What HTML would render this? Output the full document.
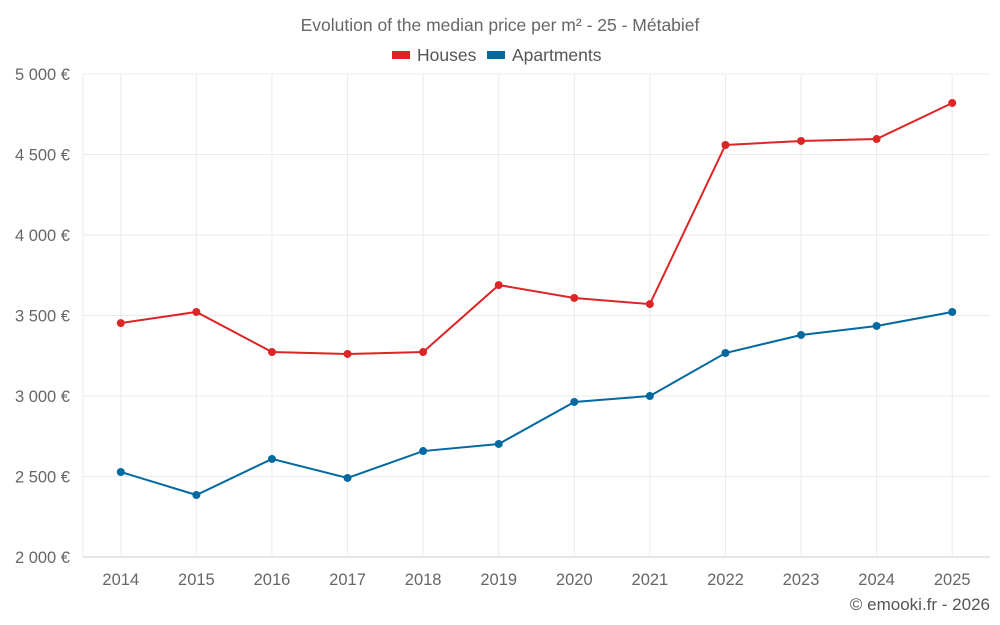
<!DOCTYPE html>
<html><head><meta charset="utf-8"><style>
html,body{margin:0;padding:0;background:#fff;}
svg{display:block;font-family:"Liberation Sans",sans-serif;}
</style></head><body>
<svg id="chart" width="1000" height="625">
<text x="500" y="31" text-anchor="middle" font-size="17.5" fill="#666">Evolution of the median price per m² - 25 - Métabief</text>
<g>
<g><rect x="392" y="51" width="18" height="8" fill="#dc2626"/><text x="417" y="61" font-size="17.5" fill="#555">Houses</text></g>
<g><rect x="487" y="51" width="18" height="8" fill="#0369a1"/><text x="512" y="61" font-size="17.5" fill="#555">Apartments</text></g>
</g>
<g id="grid"></g><g id="axes"></g><g id="series"></g>
<text x="990" y="610" text-anchor="end" font-size="17" fill="#555">© emooki.fr - 2026</text>
</svg>
<script>
const years=[2014,2015,2016,2017,2018,2019,2020,2021,2022,2023,2024,2025];
const houses=[3453,3522,3273,3261,3273,3689,3609,3571,4559,4584,4596,4820];
const apartments=[2528,2385,2609,2491,2658,2702,2963,3000,3267,3379,3435,3522];
const yTicks=[2000,2500,3000,3500,4000,4500,5000];
const yTickLabels=["2 000 €","2 500 €","3 000 €","3 500 €","4 000 €","4 500 €","5 000 €"];
const L=83,R=990,T=74,B=557,yMin=2000,yMax=5000;
const step=(R-L)/years.length;
const xs=i=>L+step*(i+0.5);
const ys=v=>B-(v-yMin)/(yMax-yMin)*(B-T);
const NS="http://www.w3.org/2000/svg";
function mk(tag,attrs,parent){const e=document.createElementNS(NS,tag);for(const k in attrs)e.setAttribute(k,attrs[k]);parent.appendChild(e);return e;}
const grid=document.getElementById('grid'),axes=document.getElementById('axes'),ser=document.getElementById('series');
yTicks.forEach((t,i)=>{
 const l=mk('line',{x1:L,x2:R,y1:ys(t),y2:ys(t),stroke:i===0?'#ccc':'#ebebeb','stroke-width':1},grid);
 
 
 const tx=mk('text',{x:70,y:ys(t)+6,'text-anchor':'end','font-size':16.5,fill:'#666'},axes);
 tx.textContent=yTickLabels[i];
 
 
});
mk('line',{x1:L,x2:L,y1:T,y2:B,stroke:'#ebebeb'},grid);
years.forEach((y,i)=>{
 const l=mk('line',{x1:xs(i),x2:xs(i),y1:T,y2:B,stroke:'#ebebeb'},grid);
 
 
 const tx=mk('text',{x:xs(i),y:585,'text-anchor':'middle','font-size':16.5,fill:'#666'},axes);
 tx.textContent=y;
 
 
});
function draw(vals,color,name){
 const p=mk('polyline',{points:vals.map((v,i)=>xs(i)+','+ys(v)).join(' '),fill:'none',stroke:color,'stroke-width':2},ser);
 
 
 vals.forEach((v,i)=>{
  const c=mk('circle',{cx:xs(i),cy:ys(v),r:4,fill:color},ser);
  
  
 });
}
draw(houses,'#dc2626','houses');
draw(apartments,'#0369a1','apartments');
</script>
</body></html>
